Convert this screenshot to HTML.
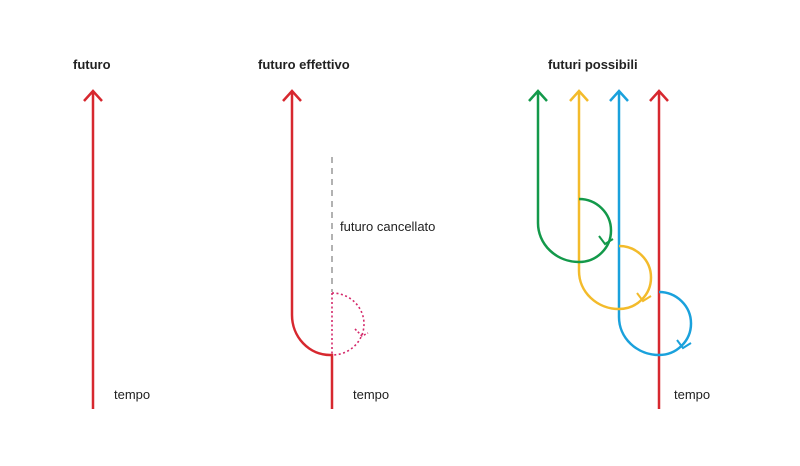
<!DOCTYPE html>
<html><head><meta charset="utf-8"><style>
html,body{margin:0;padding:0;background:#fff;}
svg{display:block;}
text{font-family:"Liberation Sans",sans-serif;fill:#222;}
</style></head><body>
<svg width="800" height="466" viewBox="0 0 800 466" xmlns="http://www.w3.org/2000/svg">
<rect width="800" height="466" fill="#fff"/>
<g font-size="13" font-weight="bold">
<text x="73" y="69">futuro</text>
<text x="258" y="69">futuro effettivo</text>
<text x="548" y="69">futuri possibili</text>
</g>
<g font-size="13">
<text x="114" y="399">tempo</text>
<text x="353" y="399">tempo</text>
<text x="674" y="399">tempo</text>
<text x="340" y="231">futuro cancellato</text>
</g>
<g fill="none" stroke-width="2.5" stroke-linecap="butt" stroke-linejoin="miter">
<path d="M93 409 V91 M84 101 L93 91 L102 101" stroke="#d7282f"/>
<path d="M332 409 V355 H330 A38 40 0 0 1 292 315 V91 M283 101 L292 91 L301 101" stroke="#d7282f"/>
<path d="M332 157 V292" stroke="#888" stroke-width="1.3" stroke-dasharray="6,5"/>
<path d="M332 293 V355 M332 293 A32 31 0 0 1 332 355" stroke="#d4296a" stroke-width="1.6" stroke-dasharray="2,2.5"/>
<path d="M355 329 L362 336 L368 333" stroke="#d4296a" stroke-width="1.6" stroke-dasharray="2,2"/>
<path d="M659 409 V91 M650 101 L659 91 L668 101" stroke="#d7282f"/>
<path d="M659 292 A32 31.5 0 0 1 659 355 A40 38 0 0 1 619 317 V91 M610 101 L619 91 L628 101" stroke="#1aa1dc"/>
<path d="M677 340 L683 348 L691 343" stroke="#1aa1dc" stroke-width="2"/>
<path d="M619 246 A32 31.5 0 0 1 619 309 A40 38 0 0 1 579 271 V91 M570 101 L579 91 L588 101" stroke="#f3bb2b"/>
<path d="M637 293 L643 301 L651 296" stroke="#f3bb2b" stroke-width="2"/>
<path d="M599 236 L605 244 L613 239" stroke="#13994a" stroke-width="2"/>
<path d="M579 199 A32 31.5 0 0 1 579 262 A41 39 0 0 1 538 223 V91 M529 101 L538 91 L547 101" stroke="#13994a"/>
</g>
</svg>
</body></html>
